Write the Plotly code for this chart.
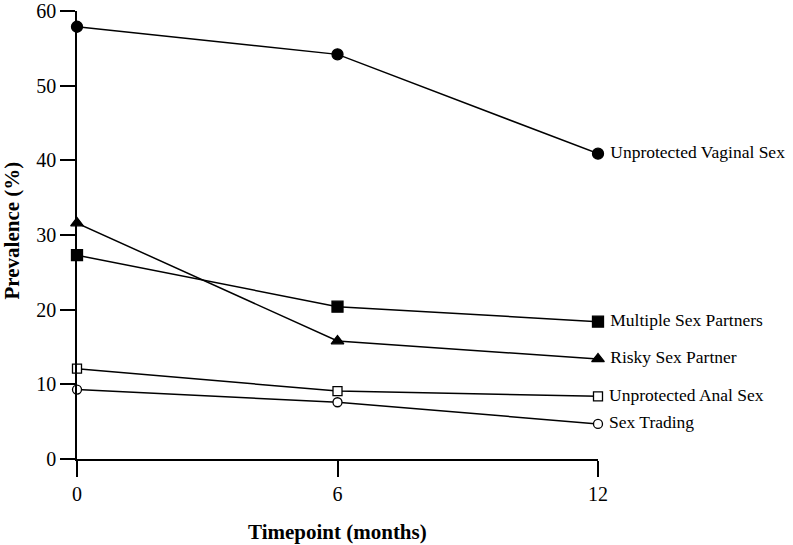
import plotly.graph_objects as go

months = [0, 6, 12]
series_names = ["Unprotected Vaginal Sex", "Multiple Sex Partners", "Risky Sex Partner",
                "Unprotected Anal Sex", "Sex Trading"]
unprotected_vaginal = [57.9, 54.2, 40.9]
multiple_partners = [27.3, 20.4, 18.4]
risky_partner = [31.6, 15.8, 13.4]
unprotected_anal = [12.1, 9.1, 8.4]
sex_trading = [9.3, 7.6, 4.7]
y_ticks = [0, 10, 20, 30, 40, 50, 60]
x_ticks = [0, 6, 12]

values = [unprotected_vaginal, multiple_partners, risky_partner, unprotected_anal, sex_trading]
symbols = ["circle", "square", "triangle-up", "square", "circle"]
fills = ["black", "black", "black", "white", "white"]
sizes = [11, 11, 11, 9, 9]

FONT = "Liberation Serif, Times New Roman, serif"

fig = go.Figure()
for name, vals, sym, fc, sz in zip(series_names, values, symbols, fills, sizes):
    fig.add_trace(go.Scatter(
        x=months, y=vals, mode="lines+markers+text",
        text=["", "", "\u00a0" + name], textposition="middle right",
        textfont=dict(family=FONT, size=17.5, color="black"),
        line=dict(color="black", width=1.5),
        marker=dict(symbol=sym, size=sz, color=fc, line=dict(color="black", width=1.3)),
        cliponaxis=False, showlegend=False, name=name,
    ))

fig.update_layout(
    width=793, height=545,
    margin=dict(l=77, r=195, t=11, b=86),
    plot_bgcolor="white", paper_bgcolor="white",
    font=dict(family=FONT, size=20, color="black"),
    xaxis=dict(range=[0, 12], tickvals=x_ticks, showline=True, linecolor="black", linewidth=1.5,
               ticks="outside", ticklen=16, tickwidth=1.5, tickcolor="black", showgrid=False,
               zeroline=False, automargin=False, tickfont=dict(size=20)),
    yaxis=dict(range=[0, 60.01], tickvals=y_ticks, showline=True, linecolor="black", linewidth=1.5,
               ticks="outside", ticklen=15, tickwidth=1.5, tickcolor="black", showgrid=False,
               zeroline=False, automargin=False, tickfont=dict(size=20),
               ticklabeloverflow="allow"),
    annotations=[
        dict(text="<b>Timepoint (months)</b>", xref="paper", yref="paper", x=0.5, y=0,
             xanchor="center", yanchor="middle", yshift=-73, showarrow=False,
             font=dict(family=FONT, size=21, color="black")),
        dict(text="<b>Prevalence (%)</b>", xref="paper", yref="paper", x=0, y=0.51,
             xanchor="center", yanchor="middle", xshift=-65, textangle=-90, showarrow=False,
             font=dict(family=FONT, size=21, color="black")),
    ],
)

# remove the default 8px page margin so the figure fills the window exactly
fig.write_html("out.html", config={"displayModeBar": False},
               post_script="document.body.style.margin='0';")
